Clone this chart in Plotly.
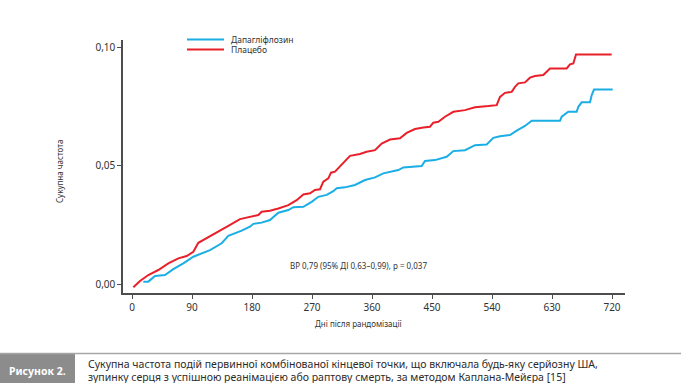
import plotly.graph_objects as go

# ---- data ----
days_dapa = [17, 24.5, 34.5, 49.5, 62, 77, 92, 102, 117, 134.5, 144.5, 164.5, 177, 182,
             194.5, 207, 219.5, 234.5, 242, 257, 269.5, 279.5, 292, 302, 307, 319.5, 334.5,
             349.5, 364.5, 377, 399.5, 407, 434.5, 439.5, 454.5, 472, 482, 499.5, 514.5,
             532, 542, 552, 567, 577, 589.5, 599.5, 642, 644.5, 654.5, 667, 669.5, 674.5,
             687, 689.5, 693, 721]
cum_dapa = [0.0010, 0.0010, 0.0034, 0.0038, 0.0063, 0.0087, 0.0115, 0.0127, 0.0143, 0.0172,
            0.0203, 0.0225, 0.0242, 0.0254, 0.0259, 0.0270, 0.0301, 0.0312, 0.0324, 0.0326,
            0.0347, 0.0368, 0.0376, 0.0392, 0.0404, 0.0408, 0.0418, 0.0439, 0.0450, 0.0467,
            0.0481, 0.0492, 0.0498, 0.0519, 0.0523, 0.0537, 0.0561, 0.0565, 0.0586, 0.0589,
            0.0617, 0.0624, 0.0629, 0.0647, 0.0667, 0.0689, 0.0689, 0.0706, 0.0727, 0.0727,
            0.0748, 0.0767, 0.0767, 0.0797, 0.0821, 0.0821]

days_plac = [2, 12, 24.5, 39.5, 54.5, 69.5, 82, 92, 99.5, 112, 122, 132, 144.5, 162, 182,
             189.5, 194.5, 207, 219.5, 234.5, 247, 257, 267, 274.5, 282, 287, 294.5, 298.5,
             304.5, 314.5, 327, 342, 352, 364.5, 374.5, 387, 402, 412, 424.5, 437, 447, 452,
             459.5, 469.5, 482, 499.5, 514.5, 534.5, 547, 552, 559.5, 569.5, 574.5, 579.5,
             589.5, 597, 604.5, 617, 622, 627, 652, 657, 662, 666, 719.5]
cum_plac = [-0.0014, 0.0013, 0.0038, 0.0059, 0.0087, 0.0108, 0.0118, 0.0136, 0.0174, 0.0193,
            0.0210, 0.0225, 0.0245, 0.0274, 0.0288, 0.0291, 0.0305, 0.0309, 0.0319, 0.0333,
            0.0354, 0.0378, 0.0383, 0.0397, 0.0400, 0.0432, 0.0446, 0.0470, 0.0474, 0.0502,
            0.0541, 0.0549, 0.0558, 0.0565, 0.0593, 0.0610, 0.0615, 0.0638, 0.0654, 0.0661,
            0.0664, 0.0681, 0.0685, 0.0706, 0.0727, 0.0734, 0.0746, 0.0751, 0.0755, 0.0790,
            0.0807, 0.0811, 0.0832, 0.0847, 0.0851, 0.0871, 0.0878, 0.0882, 0.0896, 0.0910,
            0.0910, 0.0927, 0.0931, 0.0969, 0.0969]

x_ticks = [0, 90, 180, 270, 360, 450, 540, 630, 720]
y_ticks = [0.0, 0.05, 0.10]
y_ticktext = ["0,00", "0,05", "0,10"]

series_names = ["Дапагліфлозин", "Плацебо"]
series_colors = ["#1aaee5", "#e8202a"]

hr_text = "ВР 0,79 (95% ДІ 0,63–0,99), p = 0,037"
x_title = "Дні після рандомізації"
y_title = "Сукупна частота"
fig_label = "Рисунок 2."
caption_lines = [
    "Сукупна частота подій первинної комбінованої кінцевої точки, що включала будь-яку серйозну ША,",
    "зупинку серця з успішною реанімацією або раптову смерть, за методом Каплана-Мейєра [15]",
]

FONT = "Noto Sans"
W, H = 681, 383
L, R, T, B = 123, 56, 40, 90
PW, PH = W - L - R, H - T - B


def px(xp):
    return (xp - L) / PW


def py(yp):
    return (H - B - yp) / PH


fig = go.Figure()
fig.add_trace(go.Scatter(x=days_dapa, y=cum_dapa, mode="lines", name=series_names[0],
                         line=dict(color=series_colors[0], width=2)))
fig.add_trace(go.Scatter(x=days_plac, y=cum_plac, mode="lines", name=series_names[1],
                         line=dict(color=series_colors[1], width=2)))

axis_common = dict(showline=True, linecolor="#4d4d4d", linewidth=1.5, ticks="outside",
                   ticklen=4, tickwidth=1, tickcolor="#4d4d4d", showgrid=False, zeroline=False,
                   tickfont=dict(family=FONT, size=10, color="#333333"))

fig.update_layout(
    width=W, height=H,
    margin=dict(l=L, r=R, t=T, b=B),
    paper_bgcolor="white", plot_bgcolor="white",
    xaxis=dict(range=[-13.5, 739.5], tickvals=x_ticks, **axis_common),
    yaxis=dict(range=[-0.0038, 0.103], tickvals=y_ticks, ticktext=y_ticktext, **axis_common),
    showlegend=False,
    font=dict(family=FONT),
)

ann = []
small = dict(family=FONT, size=8, color="#333333")
ann.append(dict(x=px(59), y=py(172), xref="paper", yref="paper", text=y_title, textangle=-90,
                xanchor="center", yanchor="middle", showarrow=False, font=small))
ann.append(dict(x=px(358), y=py(323), xref="paper", yref="paper", text=x_title,
                xanchor="center", yanchor="middle", showarrow=False, font=small))
ann.append(dict(x=px(358), y=py(265), xref="paper", yref="paper", text=hr_text,
                xanchor="center", yanchor="middle", showarrow=False, font=small))
ann.append(dict(x=px(37), y=py(371), xref="paper", yref="paper", text="<b>" + fig_label + "</b>",
                xanchor="center", yanchor="middle", showarrow=False,
                font=dict(family=FONT, size=10.5, color="white")))
for i, line in enumerate(caption_lines):
    ann.append(dict(x=px(86), y=py(364 + 13 * i), xref="paper", yref="paper", text=line,
                    xanchor="left", yanchor="middle", showarrow=False,
                    font=dict(family=FONT, size=10.5, color="#2b2b2b")))

# manual legend
legend_y = [39.5, 49.5]
for name, color, ly in zip(series_names, series_colors, legend_y):
    fig.add_shape(type="line", xref="paper", yref="paper", x0=px(187), x1=px(224),
                  y0=py(ly), y1=py(ly), line=dict(color=color, width=2))
    ann.append(dict(x=px(229), y=py(ly), xref="paper", yref="paper", text=name,
                    xanchor="left", yanchor="middle", showarrow=False,
                    font=dict(family=FONT, size=8.5, color="#333333")))
fig.update_layout(annotations=ann)

fig.add_shape(type="rect", xref="paper", yref="paper", x0=px(0), x1=px(75), y0=py(353), y1=py(384),
              fillcolor="#8c8c8c", line=dict(width=0), layer="below")
fig.add_shape(type="line", xref="paper", yref="paper", x0=px(0), x1=px(681), y0=py(353.5), y1=py(353.5),
              line=dict(color="#a6a6a6", width=1.5))

fig.write_html("out.html", config={"displayModeBar": False},
               post_script="document.body.style.margin='0';")
